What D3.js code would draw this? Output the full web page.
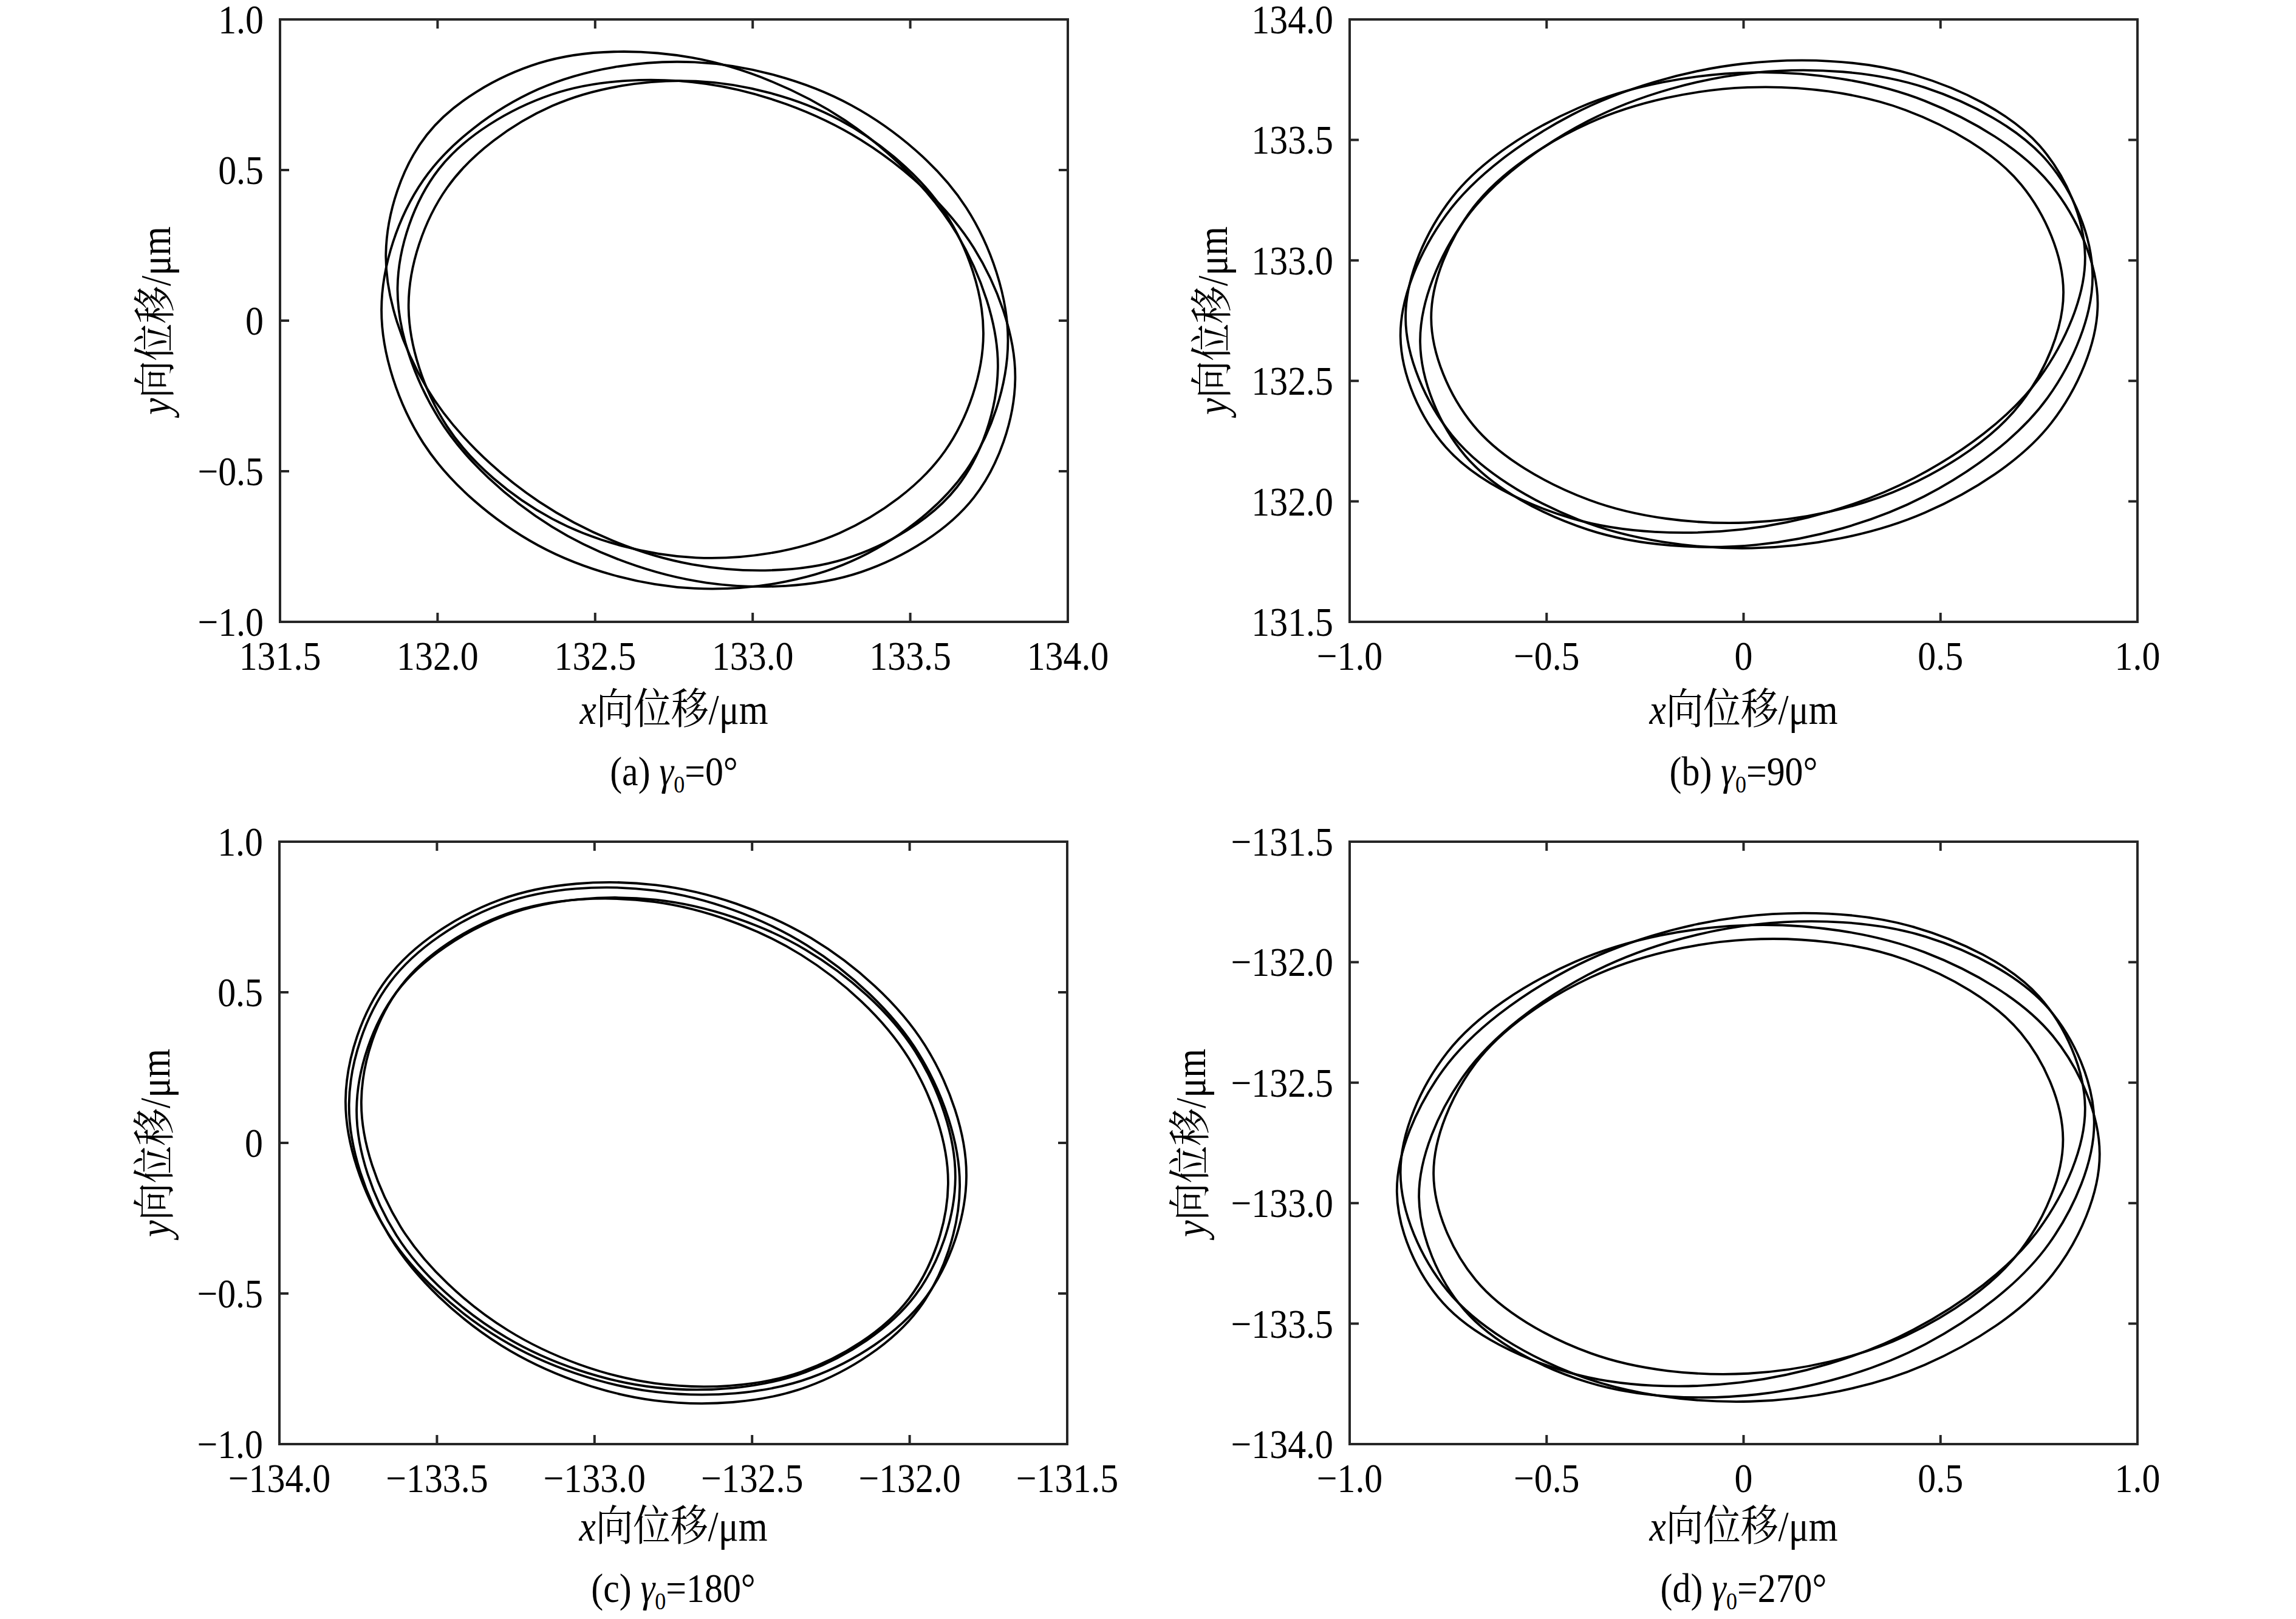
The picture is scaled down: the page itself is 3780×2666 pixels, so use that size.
<!DOCTYPE html>
<html lang="zh">
  <head>
    <meta charset="UTF-8" />
    <title>轴心轨迹</title>
    <style type="text/css">
      body {
        margin: 0;
        background: #ffffff;
      }

      svg {
        display: block;
      }

      text {
        font-family: "Liberation Serif", "Times New Roman", "Noto Serif CJK SC",
          "Noto Sans CJK SC", serif;
        fill: #000000;
      }

      .orbit {
        fill: none;
        stroke: #000000;
        stroke-width: 3.8px;
      }

      .frame,
      .tick-mark {
        fill: none;
        stroke: #262626;
        stroke-width: 4px;
      }
    </style>
  </head>
  <body>
    <script src="https://d3js.org/d3.v7.min.js"></script>
    <script>
      // tick values of each panel
      var ticksXa = [131.5, 132, 132.5, 133, 133.5, 134];
      var ticksYa = [-1, -0.5, 0, 0.5, 1];
      var ticksXb = [-1, -0.5, 0, 0.5, 1];
      var ticksYb = [131.5, 132, 132.5, 133, 133.5, 134];
      var ticksXc = [-134, -133.5, -133, -132.5, -132, -131.5];
      var ticksYc = [-1, -0.5, 0, 0.5, 1];
      var ticksXd = [-1, -0.5, 0, 0.5, 1];
      var ticksYd = [-134, -133.5, -133, -132.5, -132, -131.5];

      var captionTags = ["(a)", "(b)", "(c)", "(d)"];
      var gammaValues = ["0°", "90°", "180°", "270°"];

      // orbit loops, [x, y] in μm
      var orbitA = [
        [[133.778,-0.158],[133.648,0.288],[133.293,0.665],[132.807,0.873],[132.322,0.855],[131.966,0.617],[131.836,0.222],[131.966,-0.224],[132.322,-0.601],[132.807,-0.809],[133.293,-0.791],[133.648,-0.553]],
        [[133.810,-0.068],[133.677,0.376],[133.313,0.715],[132.816,0.858],[132.319,0.768],[131.955,0.467],[131.822,0.037],[131.955,-0.407],[132.319,-0.746],[132.816,-0.889],[133.313,-0.799],[133.677,-0.498]],
        [[133.833,-0.194],[133.702,0.241],[133.343,0.600],[132.853,0.786],[132.363,0.751],[132.004,0.503],[131.873,0.110],[132.004,-0.325],[132.363,-0.684],[132.853,-0.870],[133.343,-0.835],[133.702,-0.587]],
        [[133.732,-0.044],[133.610,0.359],[133.276,0.666],[132.820,0.795],[132.364,0.713],[132.030,0.441],[131.908,0.052],[132.030,-0.351],[132.364,-0.658],[132.820,-0.787],[133.276,-0.705],[133.610,-0.433]]
      ];
      var orbitB = [
        [[0.867,133.017],[0.751,133.477],[0.433,133.770],[-0.002,133.816],[-0.437,133.603],[-0.755,133.189],[-0.871,132.683],[-0.755,132.223],[-0.437,131.930],[-0.002,131.884],[0.433,132.097],[0.751,132.512]],
        [[0.899,132.823],[0.781,133.312],[0.460,133.662],[0.021,133.780],[-0.419,133.633],[-0.740,133.261],[-0.858,132.763],[-0.740,132.274],[-0.419,131.924],[0.021,131.806],[0.460,131.953],[0.781,132.325]],
        [[0.886,132.939],[0.772,133.410],[0.459,133.718],[0.033,133.780],[-0.394,133.579],[-0.707,133.170],[-0.821,132.661],[-0.707,132.190],[-0.394,131.882],[0.033,131.820],[0.459,132.021],[0.772,132.430]],
        [[0.812,132.869],[0.705,133.314],[0.411,133.624],[0.010,133.718],[-0.392,133.570],[-0.686,133.220],[-0.793,132.761],[-0.686,132.316],[-0.392,132.006],[0.010,131.912],[0.411,132.060],[0.705,132.410]]
      ];
      var orbitC = [
        [[-131.820,-0.113],[-131.952,0.325],[-132.313,0.680],[-132.805,0.856],[-133.298,0.808],[-133.658,0.546],[-133.790,0.142],[-133.658,-0.296],[-133.298,-0.651],[-132.805,-0.827],[-132.313,-0.779],[-131.952,-0.517]],
        [[-131.841,-0.146],[-131.971,0.296],[-132.326,0.656],[-132.810,0.838],[-133.295,0.793],[-133.649,0.533],[-133.779,0.129],[-133.649,-0.313],[-133.295,-0.673],[-132.810,-0.855],[-132.326,-0.810],[-131.971,-0.551]],
        [[-131.855,-0.117],[-131.982,0.303],[-132.330,0.641],[-132.805,0.807],[-133.280,0.756],[-133.628,0.501],[-133.755,0.112],[-133.628,-0.308],[-133.280,-0.646],[-132.805,-0.812],[-132.330,-0.761],[-131.982,-0.506]],
        [[-131.878,-0.137],[-132.003,0.281],[-132.344,0.624],[-132.809,0.800],[-133.275,0.762],[-133.615,0.520],[-133.740,0.139],[-133.615,-0.279],[-133.275,-0.622],[-132.809,-0.798],[-132.344,-0.760],[-132.003,-0.518]]
      ];
      var orbitD = [
        [[0.867,-132.601],[0.750,-132.142],[0.430,-131.853],[-0.007,-131.812],[-0.443,-132.030],[-0.763,-132.448],[-0.880,-132.955],[-0.763,-133.414],[-0.443,-133.703],[-0.007,-133.744],[0.430,-133.526],[0.750,-133.108]],
        [[0.904,-132.795],[0.785,-132.306],[0.460,-131.959],[0.017,-131.846],[-0.427,-131.998],[-0.752,-132.374],[-0.871,-132.874],[-0.752,-133.363],[-0.427,-133.711],[0.017,-133.823],[0.460,-133.671],[0.785,-133.295]],
        [[0.890,-132.660],[0.775,-132.194],[0.462,-131.894],[0.033,-131.843],[-0.396,-132.053],[-0.709,-132.468],[-0.824,-132.977],[-0.709,-133.443],[-0.396,-133.743],[0.033,-133.794],[0.462,-133.585],[0.775,-133.169]],
        [[0.811,-132.734],[0.704,-132.294],[0.412,-131.990],[0.012,-131.906],[-0.388,-132.063],[-0.680,-132.419],[-0.787,-132.879],[-0.680,-133.319],[-0.388,-133.623],[0.012,-133.707],[0.412,-133.550],[0.704,-133.194]]
      ];

      var width = 3780;
      var height = 2666;
      var plotW = 1297;
      var plotH = 992;
      var tickLen = 15;
      var squeeze = 0.88; // text in the source is a little narrow

      var panels = [
        { xt: ticksXa, yt: ticksYa, orbit: orbitA, left: 461, top: 32, yLabelOff: 181, lift: 0 },
        { xt: ticksXb, yt: ticksYb, orbit: orbitB, left: 2222, top: 32, yLabelOff: 202, lift: 0 },
        { xt: ticksXc, yt: ticksYc, orbit: orbitC, left: 460, top: 1386, yLabelOff: 181, lift: 9 },
        { xt: ticksXd, yt: ticksYd, orbit: orbitD, left: 2222, top: 1386, yLabelOff: 238, lift: 9 }
      ];

      var fmt = d3.format(".1f");
      function tickText(d) {
        return d === 0 ? "0" : fmt(d);
      }

      var svg = d3
        .select("body")
        .append("svg")
        .attr("width", width)
        .attr("height", height)
        .attr("viewBox", [0, 0, width, height]);

      svg.append("rect").attr("width", width).attr("height", height).attr("fill", "#ffffff");

      function place(tx, ty, rot) {
        return "translate(" + tx + "," + ty + ")" + (rot ? " rotate(" + rot + ")" : "") + " scale(" + squeeze + ",1)";
      }

      panels.forEach(function (p, i) {
        var x = d3.scaleLinear().domain(d3.extent(p.xt)).range([p.left, p.left + plotW]);
        var y = d3.scaleLinear().domain(d3.extent(p.yt)).range([p.top + plotH, p.top]);
        var g = svg.append("g").attr("class", "panel");

        var line = d3
          .line()
          .x((d) => x(d[0]))
          .y((d) => y(d[1]))
          .curve(d3.curveCatmullRomClosed.alpha(0.5));

        g.append("g")
          .selectAll(".orbit")
          .data(p.orbit)
          .join("path")
          .attr("class", "orbit")
          .attr("d", line);

        // inward ticks on all four sides
        var marks = g.append("g");
        marks
          .selectAll(".tick-b")
          .data(p.xt)
          .join("line")
          .attr("class", "tick-mark")
          .attr("x1", (d) => x(d))
          .attr("x2", (d) => x(d))
          .attr("y1", p.top + plotH)
          .attr("y2", p.top + plotH - tickLen);
        marks
          .selectAll(".tick-t")
          .data(p.xt)
          .join("line")
          .attr("class", "tick-mark")
          .attr("x1", (d) => x(d))
          .attr("x2", (d) => x(d))
          .attr("y1", p.top)
          .attr("y2", p.top + tickLen);
        marks
          .selectAll(".tick-l")
          .data(p.yt)
          .join("line")
          .attr("class", "tick-mark")
          .attr("x1", p.left)
          .attr("x2", p.left + tickLen)
          .attr("y1", (d) => y(d))
          .attr("y2", (d) => y(d));
        marks
          .selectAll(".tick-r")
          .data(p.yt)
          .join("line")
          .attr("class", "tick-mark")
          .attr("x1", p.left + plotW)
          .attr("x2", p.left + plotW - tickLen)
          .attr("y1", (d) => y(d))
          .attr("y2", (d) => y(d));

        g.append("rect")
          .attr("class", "frame")
          .attr("x", p.left)
          .attr("y", p.top)
          .attr("width", plotW)
          .attr("height", plotH);

        // tick labels
        g.append("g")
          .selectAll("text")
          .data(p.xt)
          .join("text")
          .attr("transform", (d) => place(x(d), p.top + plotH + 79))
          .attr("text-anchor", "middle")
          .attr("font-size", 68)
          .text(tickText);

        g.append("g")
          .selectAll("text")
          .data(p.yt)
          .join("text")
          .attr("transform", (d) => place(p.left - 27, y(d) + 23))
          .attr("text-anchor", "end")
          .attr("font-size", 68)
          .text(tickText);

        // axis titles
        var cx = p.left + plotW / 2;
        var xl = g
          .append("text")
          .attr("transform", place(cx, p.top + plotH + 168 - p.lift))
          .attr("text-anchor", "middle")
          .attr("font-size", 70);
        xl.append("tspan").style("font-style", "italic").text("x");
        xl.append("tspan").text("向位移/μm");

        var yl = g
          .append("text")
          .attr("transform", place(p.left - p.yLabelOff, p.top + plotH / 2, -90))
          .attr("text-anchor", "middle")
          .attr("font-size", 70);
        yl.append("tspan").style("font-style", "italic").text("y");
        yl.append("tspan").text("向位移/μm");

        // caption
        var cap = g
          .append("text")
          .attr("transform", place(cx, p.top + plotH + 269 - p.lift))
          .attr("text-anchor", "middle")
          .attr("font-size", 68);
        cap.append("tspan").text(captionTags[i] + " ");
        cap.append("tspan").style("font-style", "italic").text("γ");
        cap.append("tspan").attr("font-size", 41).attr("dy", 12).text("0");
        cap.append("tspan").attr("dy", -12).text("=" + gammaValues[i]);
      });
    </script>
  </body>
</html>
